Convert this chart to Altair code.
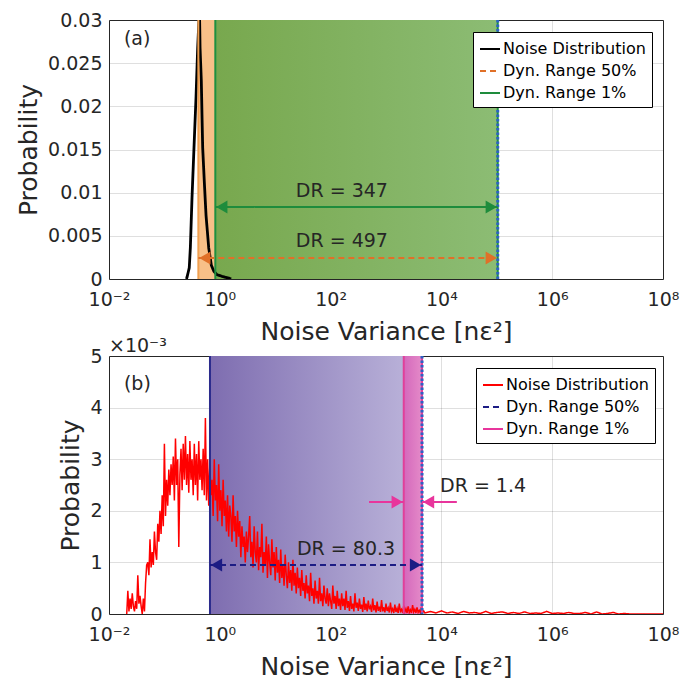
import altair as alt
import pandas as pd

FONT = "DejaVu Sans"
INK = "#262626"
PLOT_W = 554
TOP_H = 259
BOT_H = 258

series_names = ["Noise Distribution", "Dyn. Range 50%", "Dyn. Range 1%"]
series_dash = [[1, 0], [6, 4], [1, 0]]
x_tick_exp = [-2, 0, 2, 4, 6, 8]
x_tick_text = ["10⁻²", "10⁰", "10²", "10⁴", "10⁶", "10⁸"]
x_domain = [1e-2, 1e8]
x_title = "Noise Variance [nε²]"
y_title = "Probability"

# ---------------- panel (a) ----------------
a_y_domain = [0, 0.03]
a_y_ticks = [0, 0.005, 0.01, 0.015, 0.02, 0.025, 0.03]
a_noise_x = [0.25, 0.256, 0.281, 0.294, 0.315, 0.342, 0.372, 0.399, 0.416, 0.43,
             0.44, 0.464, 0.477, 0.491, 0.525, 0.564, 0.631, 0.703, 0.78, 0.889,
             1.0, 1.1, 1.25, 1.47, 1.6]
a_noise_p = [0.0, 0.0002, 0.0013, 0.0036, 0.0094, 0.0152, 0.021, 0.0268, 0.0294, 0.031,
             0.0268, 0.0229, 0.019, 0.0152, 0.0113, 0.0074, 0.0036, 0.0016, 0.0009, 0.0005,
             0.0004, 0.0003, 0.0002, 0.0001, 0.0]
a_colors = ["#000000", "#e07028", "#1e8c3c"]
a_band_lo = [0.41, 0.83]
a_band_hi = [0.83, 1.04e5]
a_band_from = ["#f8c088", "#78a84e"]
a_band_to = ["#f8c088", "#8cbc74"]
a_arrow_series = ["Dyn. Range 50%", "Dyn. Range 1%"]
a_arrow_lo = [0.41, 0.83]
a_arrow_hi = [1.04e5, 1.04e5]
a_arrow_y = [0.00243, 0.00834]
a_arrow_head_lo = [True, True]
a_arrow_head_hi = [True, True]
a_vline_x = [0.41, 0.83, 1.04e5]
a_vline_color = ["#f0a050", "#1e9040", "#1e9040"]
a_dotted_x = [1.04e5]
a_text = ["(a)", "DR = 347", "DR = 497"]
a_text_x = [0.0186, 160, 160]
a_text_y = [0.0271, 0.0095, 0.0037]
a_text_align = ["left", "center", "center"]

# ---------------- panel (b) ----------------
b_y_domain = [0, 5]
b_y_ticks = [0, 1, 2, 3, 4, 5]
b_noise_logx = [
    -1.68, -1.66, -1.64, -1.62, -1.60, -1.58, -1.56, -1.54, -1.52, -1.50,
    -1.48, -1.46, -1.44, -1.42, -1.40, -1.38, -1.36, -1.34, -1.32, -1.30,
    -1.28, -1.26, -1.24, -1.22, -1.20, -1.18, -1.16, -1.14, -1.12, -1.10,
    -1.08, -1.06, -1.04, -1.02, -1.00, -0.98, -0.96, -0.94, -0.92, -0.90,
    -0.88, -0.86, -0.84, -0.82, -0.80, -0.78, -0.76, -0.74, -0.72, -0.70,
    -0.68, -0.66, -0.64, -0.62, -0.60, -0.58, -0.56, -0.54, -0.52, -0.50,
    -0.48, -0.46, -0.44, -0.42, -0.40, -0.38, -0.36, -0.34, -0.32, -0.30,
    -0.28, -0.26, -0.24, -0.22, -0.20, -0.18, -0.16, -0.14, -0.12, -0.10,
    -0.08, -0.06, -0.04, -0.02, 0.00, 0.02, 0.04, 0.06, 0.08, 0.10,
    0.12, 0.14, 0.16, 0.18, 0.20, 0.22, 0.24, 0.26, 0.28, 0.30,
    0.32, 0.34, 0.36, 0.38, 0.40, 0.42, 0.44, 0.46, 0.48, 0.50,
    0.52, 0.54, 0.56, 0.58, 0.60, 0.62, 0.64, 0.66, 0.68, 0.70,
    0.72, 0.74, 0.76, 0.78, 0.80, 0.82, 0.84, 0.86, 0.88, 0.90,
    0.92, 0.94, 0.96, 0.98, 1.00,
    1.02, 1.04, 1.06, 1.08, 1.10, 1.12, 1.14, 1.16, 1.18, 1.20,
    1.22, 1.24, 1.26, 1.28, 1.30, 1.32, 1.34, 1.36, 1.38, 1.40,
    1.42, 1.44, 1.46, 1.48, 1.50, 1.52, 1.54, 1.56, 1.58, 1.60,
    1.62, 1.64, 1.66, 1.68, 1.70, 1.72, 1.74, 1.76, 1.78, 1.80,
    1.82, 1.84, 1.86, 1.88, 1.90, 1.92, 1.94, 1.96, 1.98, 2.00,
    2.02, 2.04, 2.06, 2.08, 2.10, 2.12, 2.14, 2.16, 2.18, 2.20,
    2.22, 2.24, 2.26, 2.28, 2.30, 2.32, 2.34, 2.36, 2.38, 2.40,
    2.42, 2.44, 2.46, 2.48, 2.50, 2.52, 2.54, 2.56, 2.58, 2.60,
    2.62, 2.64, 2.66, 2.68, 2.70, 2.72, 2.74, 2.76, 2.78, 2.80,
    2.82, 2.84, 2.86, 2.88, 2.90, 2.92, 2.94, 2.96, 2.98, 3.00,
    3.02, 3.04, 3.06, 3.08, 3.10, 3.12, 3.14, 3.16, 3.18, 3.20,
    3.22, 3.24, 3.26, 3.28, 3.30, 3.32, 3.34, 3.36, 3.38, 3.40,
    3.42, 3.44, 3.46, 3.48, 3.50, 3.52, 3.54, 3.56, 3.58, 3.60,
    3.62, 3.64, 3.66, 3.68, 3.70,
    3.8, 3.9, 4.0, 4.1, 4.2, 4.3, 4.4, 4.5, 4.6, 4.7,
    4.8, 4.9, 5.0, 5.1, 5.2, 5.3, 5.4, 5.5, 5.6, 5.7,
    5.8, 5.9, 6.0, 6.1, 6.2, 6.3, 6.4, 6.5, 6.6, 6.7,
    6.8, 6.9, 7.0, 7.1, 7.2, 7.3, 7.4, 7.5, 7.6, 7.7,
    7.8, 7.9, 8.0,
]
b_noise_p = [
    0.0, 0.45, 0.05, 0.3, 0.1, 0.4, 0.15, 0.05, 0.25, 0.1,
    0.75, 0.2, 0.35, 0.15, 0.0, 0.3, 0.05, 0.6, 0.95, 1.0,
    0.75, 1.45, 0.9, 1.2, 0.95, 1.6, 1.2, 1.05, 1.75, 1.4,
    2.0, 1.55, 2.3, 1.7, 3.3, 1.9, 2.6, 2.1, 2.8, 2.3,
    2.9, 2.5, 3.05, 2.2, 3.4, 2.5, 3.0, 1.3, 2.7, 3.2,
    2.4, 3.3, 2.6, 3.45, 2.5, 3.1, 2.35, 3.35, 2.6, 3.0,
    2.3, 3.3, 2.5, 3.1, 2.2, 3.35, 2.6, 3.0, 2.4, 3.2,
    2.3, 3.8, 2.2, 3.0, 2.1, 2.9, 2.3, 2.6, 1.9, 3.0,
    2.2, 2.5, 1.8, 2.9, 2.0, 2.4, 1.7, 2.6, 1.9, 2.2,
    1.6, 2.3, 1.5, 2.1, 1.9, 1.4, 2.3, 1.6, 1.9, 1.3,
    2.0, 1.5, 1.8, 1.1, 1.7, 1.3, 1.5, 1.0, 1.6, 1.2,
    1.5, 1.9, 1.1, 1.4, 0.9, 1.7, 1.2, 1.0, 1.6, 0.85,
    1.3, 1.1, 1.75, 0.8, 1.2, 0.95, 1.5, 0.7, 1.35, 1.0,
    0.75, 1.45, 0.9, 1.2, 0.65,
    1.3, 0.8, 1.05, 0.6, 1.25, 0.7, 0.95, 0.55, 1.15, 0.75,
    0.5, 1.0, 0.6, 0.85, 0.45, 1.05, 0.55, 0.8, 0.4, 0.9,
    0.5, 0.7, 0.35, 0.85, 0.45, 0.6, 0.3, 0.75, 0.4, 0.55,
    0.25, 0.8, 0.35, 0.5, 0.2, 0.65, 0.3, 0.45, 0.2, 0.7,
    0.25, 0.4, 0.15, 0.55, 0.3, 0.2, 0.5, 0.15, 0.4, 0.25,
    0.1, 0.55, 0.2, 0.35, 0.1, 0.45, 0.15, 0.3, 0.08, 0.4,
    0.15, 0.3, 0.08, 0.45, 0.12, 0.25, 0.06, 0.35, 0.1, 0.2,
    0.05, 0.4, 0.12, 0.22, 0.06, 0.3, 0.1, 0.18, 0.04, 0.33,
    0.08, 0.2, 0.05, 0.26, 0.09, 0.15, 0.04, 0.3, 0.07, 0.17,
    0.03, 0.24, 0.06, 0.14, 0.04, 0.27, 0.05, 0.13, 0.03, 0.2,
    0.06, 0.12, 0.03, 0.22, 0.05, 0.1, 0.02, 0.18, 0.04, 0.11,
    0.02, 0.2, 0.05, 0.09, 0.02, 0.16, 0.04, 0.1, 0.02, 0.15,
    0.03, 0.08, 0.02, 0.17, 0.04, 0.09, 0.02, 0.13, 0.03, 0.07,
    0.02, 0.14, 0.03, 0.06, 0.02,
    0.05, 0.02, 0.06, 0.02, 0.04, 0.01, 0.05, 0.02, 0.03, 0.01,
    0.05, 0.01, 0.03, 0.04, 0.01, 0.03, 0.01, 0.04, 0.01, 0.02,
    0.01, 0.05, 0.01, 0.02, 0.01, 0.03, 0.01, 0.01, 0.03, 0.0,
    0.04, 0.0, 0.01, 0.03, 0.0, 0.01, 0.0, 0.0, 0.0, 0.0,
    0.0, 0.0, 0.0,
]
b_colors = ["#ff0000", "#1c1c84", "#e8359c"]
b_band_lo = [0.665, 2090]
b_band_hi = [2090, 4470]
b_band_from = ["#7e6db0", "#d468bc"]
b_band_to = ["#b8b0d8", "#e48ac8"]
b_arrow_series = ["Dyn. Range 50%", "Dyn. Range 1%", "Dyn. Range 1%"]
b_arrow_lo = [0.665, 493, 4470]
b_arrow_hi = [4470, 2090, 19000]
b_arrow_y = [0.95, 2.17, 2.17]
b_arrow_head_lo = [True, False, True]
b_arrow_head_hi = [True, True, False]
b_vline_x = [0.665, 2090, 4470]
b_vline_color = ["#2b2b8c", "#e0409a", "#e0409a"]
b_dotted_x = [4470]
b_text = ["(b)", "DR = 80.3", "DR = 1.4"]
b_text_x = [0.0186, 190, 9440]
b_text_y = [4.34, 1.143, 2.37]
b_text_align = ["left", "center", "left"]

# ---------------- helpers ----------------
label_expr = " : ".join(
    f"round(log(datum.value) / LN10) == {e} ? '{t}'" for e, t in zip(x_tick_exp, x_tick_text)
) + " : ''"

XSCALE = alt.Scale(type="log", domain=x_domain, nice=False)
XAXIS = alt.Axis(values=[10.0 ** e for e in x_tick_exp], labelExpr=label_expr,
                 title=x_title, grid=True, labelPadding=11, titlePadding=10,
                 labelOverlap=False, labelFlush=False)


def xenc(field):
    return alt.X(f"{field}:Q", scale=XSCALE, axis=XAXIS)


def build_panel(h, y_domain, y_ticks, noise_df, colors, band_lo, band_hi, band_from, band_to,
                arrow_series, arrow_lo, arrow_hi, arrow_y, head_lo, head_hi,
                vline_x, vline_color, dotted_x, texts, text_x, text_y, text_align,
                legend_x, legend_y, line_w):
    yscale = alt.Scale(domain=y_domain, nice=False, zero=True)
    yaxis = alt.Axis(values=y_ticks, format="~g", title=y_title, labelPadding=7,
                     titlePadding=6, grid=True, labelOverlap=False)

    def yenc(field):
        return alt.Y(f"{field}:Q", scale=yscale, axis=yaxis)

    cscale = alt.Scale(domain=series_names, range=colors)
    dscale = alt.Scale(domain=series_names, range=series_dash)
    leg = alt.Legend(title=None, orient="none", legendX=legend_x, legendY=legend_y,
                     symbolType="stroke", symbolSize=400, symbolStrokeWidth=2,
                     labelFont=FONT, labelFontSize=16, labelColor="#000000",
                     strokeColor="#000000", fillColor="#ffffff", padding=6,
                     rowPadding=3, labelOffset=2, cornerRadius=0)

    layers = []
    for lo, hi, c0, c1 in zip(band_lo, band_hi, band_from, band_to):
        bdf = pd.DataFrame({"lo": [lo], "hi": [hi], "y0": [y_domain[0]], "y1": [y_domain[1]]})
        grad = alt.LinearGradient(gradient="linear",
                                  stops=[alt.GradientStop(color=c0, offset=0),
                                         alt.GradientStop(color=c1, offset=1)],
                                  x1=0, x2=1, y1=0, y2=0)
        layers.append(alt.Chart(bdf).mark_rect(fill=grad, strokeWidth=0).encode(
            x=xenc("lo"), x2="hi", y=yenc("y0"), y2="y1"))

    layers.append(alt.Chart(noise_df).mark_line(strokeWidth=line_w, clip=True).encode(
        x=xenc("x"), y=yenc("p"),
        color=alt.Color("series:N", scale=cscale, legend=leg),
        strokeDash=alt.StrokeDash("series:N", scale=dscale, legend=leg)))

    for vx, vc in zip(vline_x, vline_color):
        vdf = pd.DataFrame({"x": [vx]})
        layers.append(alt.Chart(vdf).mark_rule(color=vc, strokeWidth=2).encode(x=xenc("x")))
    for dx in dotted_x:
        ddf = pd.DataFrame({"x": [dx]})
        layers.append(alt.Chart(ddf).mark_rule(color="#2d62c4", strokeWidth=3,
                                               strokeDash=[2.5, 2]).encode(x=xenc("x")))

    adf = pd.DataFrame({"series": arrow_series, "lo": arrow_lo, "hi": arrow_hi, "y": arrow_y,
                        "head_lo": head_lo, "head_hi": head_hi})
    layers.append(alt.Chart(adf).mark_rule(strokeWidth=2).encode(
        x=xenc("lo"), x2="hi", y=yenc("y"),
        color=alt.Color("series:N", scale=cscale, legend=leg),
        strokeDash=alt.StrokeDash("series:N", scale=dscale, legend=leg)))
    fscale = alt.Scale(domain=series_names, range=colors)
    layers.append(alt.Chart(adf[adf["head_lo"]]).mark_point(
        shape="triangle-left", filled=True, size=170, opacity=1, strokeWidth=0, xOffset=6.5).encode(
        x=xenc("lo"), y=yenc("y"), fill=alt.Fill("series:N", scale=fscale, legend=None)))
    layers.append(alt.Chart(adf[adf["head_hi"]]).mark_point(
        shape="triangle-right", filled=True, size=170, opacity=1, strokeWidth=0, xOffset=-6.5).encode(
        x=xenc("hi"), y=yenc("y"), fill=alt.Fill("series:N", scale=fscale, legend=None)))

    tdf = pd.DataFrame({"t": texts, "x": text_x, "y": text_y, "align": text_align})
    for al in ["left", "center"]:
        sub = tdf[tdf["align"] == al]
        if len(sub):
            layers.append(alt.Chart(sub).mark_text(
                align=al, baseline="alphabetic", font=FONT, fontSize=19, color=INK).encode(
                x=xenc("x"), y=yenc("y"), text="t:N"))

    return alt.layer(*layers).properties(width=PLOT_W, height=h)


a_noise = pd.DataFrame({"x": a_noise_x, "p": a_noise_p, "series": series_names[0]})
top = build_panel(TOP_H, a_y_domain, a_y_ticks, a_noise, a_colors, a_band_lo, a_band_hi,
                  a_band_from, a_band_to, a_arrow_series, a_arrow_lo, a_arrow_hi, a_arrow_y,
                  a_arrow_head_lo, a_arrow_head_hi, a_vline_x, a_vline_color, a_dotted_x,
                  a_text, a_text_x, a_text_y, a_text_align, 364, 12, 2.8)

b_noise = pd.DataFrame({"lx": b_noise_logx, "p": b_noise_p, "series": series_names[0]})
b_noise["x"] = 10.0 ** b_noise["lx"]
bottom = build_panel(BOT_H, b_y_domain, b_y_ticks, b_noise, b_colors, b_band_lo, b_band_hi,
                     b_band_from, b_band_to, b_arrow_series, b_arrow_lo, b_arrow_hi, b_arrow_y,
                     b_arrow_head_lo, b_arrow_head_hi, b_vline_x, b_vline_color, b_dotted_x,
                     b_text, b_text_x, b_text_y, b_text_align, 367, 12, 1.5).properties(
    title=alt.TitleParams("×10⁻³", anchor="start", frame="group", fontSize=19, font=FONT,
                          fontWeight="normal", color=INK, offset=-9))

chart = alt.vconcat(top, bottom, spacing=77, bounds="flush").resolve_scale(
    x="independent", y="independent", color="independent", strokeDash="independent",
    fill="independent").properties(
    padding={"left": 8, "top": 2, "right": 5, "bottom": 2}
).configure(font=FONT).configure_view(stroke=INK, strokeWidth=1).configure_axis(
    labelFont=FONT, labelFontSize=19, labelColor=INK, titleFont=FONT, titleFontSize=25,
    titleColor=INK, titleFontWeight="normal", domain=False, ticks=False,
    gridColor=INK, gridOpacity=0.15, zindex=1)

chart.save("out.html", embed_options={"renderer": "svg", "actions": False})
